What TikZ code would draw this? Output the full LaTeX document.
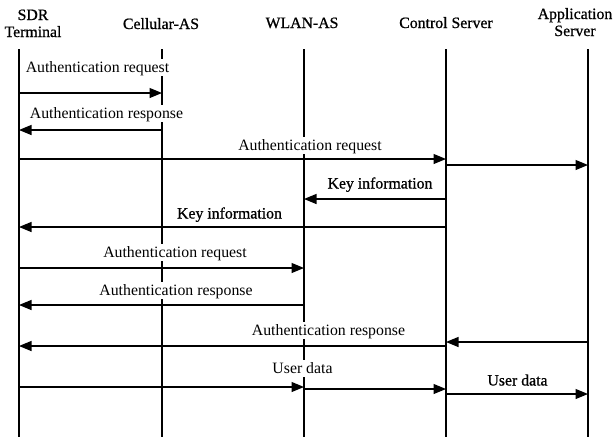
\documentclass[tikz,border=0pt]{standalone}
\usepackage{fontspec}
\setmainfont{Liberation Serif}
\newfontfamily\heavyfont[FakeBold=0.8]{Liberation Serif}
\usetikzlibrary{arrows.meta}
\begin{document}
\begin{tikzpicture}[x=1pt,y=-1pt,
  life/.style={line width=1.2pt},
  msg/.style={line width=1.2pt,-{Triangle[length=12.5pt,width=10pt]}},
  lbl/.style={fill=white,inner xsep=1pt,inner ysep=2pt,text height=11.5pt,text depth=1.5pt,anchor=base},
  head/.style={inner sep=0pt,anchor=base,font=\fontsize{15.8}{17}\heavyfont},
  font=\fontsize{15.8}{17}\selectfont]
\useasboundingbox (0,0) rectangle (614,440);
% headers
\node[head] (hsdr) at (33,20) {\begin{tabular}[t]{@{}c@{}}SDR\\Terminal\end{tabular}};
\node[head] (hcell) at (161,29) {Cellular-AS};
\node[head] (hwlan) at (302,28) {WLAN-AS};
\node[head] (hctrl) at (446,28) {Control Server};
\node[head] (happ) at (575,19) {\begin{tabular}[t]{@{}c@{}}Application\\Server\end{tabular}};
% lifelines
\coordinate (sdr) at (19,49);   \coordinate (sdrB) at (19,437);
\coordinate (cell) at (162,49); \coordinate (cellB) at (162,437);
\coordinate (wlan) at (304,49); \coordinate (wlanB) at (304,437);
\coordinate (ctrl) at (446,49); \coordinate (ctrlB) at (446,437);
\coordinate (app) at (588,49);  \coordinate (appB) at (588,437);
\draw[life] (sdr) -- (sdrB);
\draw[life] (cell) -- (cellB);
\draw[life] (wlan) -- (wlanB);
\draw[life] (ctrl) -- (ctrlB);
\draw[life] (app) -- (appB);
% labels
\node[lbl] (l1) at (97.5,72.5) {Authentication request};
\node[lbl] (l2) at (106.5,118.5) {Authentication response};
\node[lbl] (l3) at (310,150.5) {Authentication request};
\node[lbl,font=\fontsize{15.8}{17}\heavyfont] (l4) at (380,188.5) {Key information};
\node[lbl,font=\fontsize{15.8}{17}\heavyfont] (l5) at (229.5,218.5) {Key information};
\node[lbl] (l6) at (175,257.5) {Authentication request};
\node[lbl] (l7) at (176,295.5) {Authentication response};
\node[lbl] (l8) at (328.5,335.5) {Authentication response};
\node[lbl] (l9) at (302.5,373.5) {User data};
\node[lbl,font=\fontsize{15.8}{17}\heavyfont] (l10) at (517.5,385.5) {User data};
% messages
\draw[msg] (sdr |- 0,93) -- (cell |- 0,93);
\draw[msg] (cell |- 0,130) -- (sdr |- 0,130);
\draw[msg] (sdr |- 0,159) -- (ctrl |- 0,159);
\draw[msg] (ctrl |- 0,165) -- (app |- 0,165);
\draw[msg] (ctrl |- 0,199) -- (wlan |- 0,199);
\draw[msg] (ctrl |- 0,227) -- (sdr |- 0,227);
\draw[msg] (sdr |- 0,268) -- (wlan |- 0,268);
\draw[msg] (wlan |- 0,305) -- (sdr |- 0,305);
\draw[msg] (app |- 0,342) -- (ctrl |- 0,342);
\draw[msg] (ctrl |- 0,346) -- (sdr |- 0,346);
\draw[msg] (sdr |- 0,387) -- (wlan |- 0,387);
\draw[msg] (wlan |- 0,389) -- (ctrl |- 0,389);
\draw[msg] (ctrl |- 0,394) -- (app |- 0,394);
\end{tikzpicture}
\end{document}
